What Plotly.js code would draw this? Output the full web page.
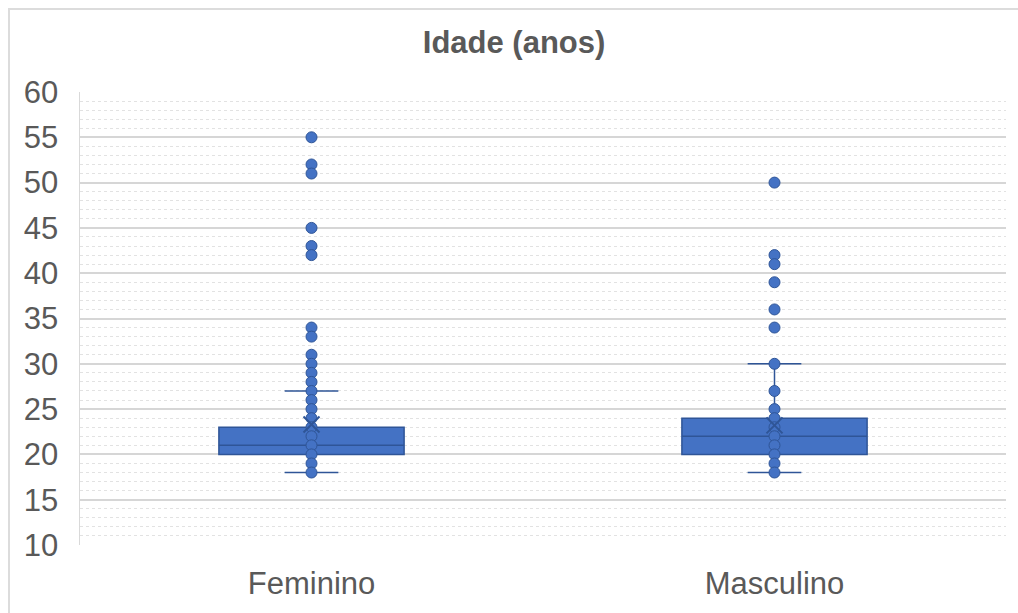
<!DOCTYPE html>
<html>
<head>
<meta charset="utf-8">
<script src="https://cdn.plot.ly/plotly-3.0.1.min.js"></script>
<style>
  html, body { margin: 0; padding: 0; background: #ffffff; }
  #wrap { position: relative; width: 1018px; height: 613px; overflow: hidden; }
  #chart { position: absolute; left: 0; top: 0; width: 1018px; height: 613px; }
  #frame { position: absolute; left: 8px; top: 8px; width: 1030px; height: 640px;
           border: 2px solid #dcdcdc; box-sizing: border-box; pointer-events: none; }
</style>
</head>
<body>
<div id="wrap">
  <div id="chart"></div>
  <div id="frame"></div>
</div>
<script>
// Grupos e resumo estatístico da idade por sexo
const categorias = ['Feminino', 'Masculino'];
const q1 = [20, 20];
const mediana = [21, 22];
const q3 = [23, 24];
const limiteInferior = [18, 18];
const limiteSuperior = [27, 30];
const media = [23.3, 23.2];

// Idades observadas (valores distintos) em cada grupo
const idadesFeminino = [55, 52, 51, 45, 43, 42, 34, 33, 31, 30, 29, 28, 27, 26, 25, 24, 23, 22, 21, 20, 19, 18];
const idadesMasculino = [50, 42, 41, 39, 36, 34, 30, 27, 25, 24, 23, 22, 21, 20, 19, 18];

const azul = '#4472C4';
const azulEscuro = '#2F5597';
const cinzaTexto = '#595959';

const pontosX = idadesFeminino.map(() => categorias[0]).concat(idadesMasculino.map(() => categorias[1]));
const pontosY = idadesFeminino.concat(idadesMasculino);

const traces = [
  {
    type: 'box',
    x: categorias,
    q1: q1,
    median: mediana,
    q3: q3,
    lowerfence: limiteInferior,
    upperfence: limiteSuperior,
    width: 0.4,
    whiskerwidth: 0.29,
    fillcolor: azul,
    line: { color: azulEscuro, width: 1.5 },
    boxpoints: false,
    hoverinfo: 'skip'
  },
  {
    type: 'scatter',
    mode: 'markers',
    x: pontosX,
    y: pontosY,
    marker: { color: azul, size: 11, line: { color: azulEscuro, width: 1 } },
    hoverinfo: 'skip'
  },
  {
    type: 'scatter',
    mode: 'markers',
    x: categorias,
    y: media,
    marker: { symbol: 'x-thin-open', size: 16, color: azulEscuro, line: { color: azulEscuro, width: 2 } },
    hoverinfo: 'skip'
  }
];

const layout = {
  width: 1018,
  height: 613,
  margin: { l: 80, r: 12, t: 92, b: 68 },
  paper_bgcolor: '#ffffff',
  plot_bgcolor: '#ffffff',
  showlegend: false,
  hovermode: false,
  font: { family: 'Liberation Sans, Arial, sans-serif', color: cinzaTexto },
  title: {
    text: '<b>Idade (anos)</b>',
    font: { size: 31, color: cinzaTexto },
    x: 0.505, xanchor: 'center',
    y: 0.932, yanchor: 'middle'
  },
  xaxis: {
    type: 'category',
    range: [-0.5, 1.5],
    showgrid: false,
    zeroline: false,
    showline: false,
    ticks: '',
    ticklabelstandoff: 17,
    tickfont: { size: 31, color: cinzaTexto }
  },
  yaxis: {
    range: [10, 60],
    dtick: 5,
    tick0: 10,
    showgrid: true,
    gridcolor: '#d6d6d6',
    gridwidth: 2,
    zeroline: false,
    showline: true,
    linecolor: '#d9d9d9',
    linewidth: 1.5,
    ticks: '',
    ticklabelstandoff: 14,
    tickfont: { size: 31, color: cinzaTexto },
    minor: {
      dtick: 1,
      showgrid: true,
      gridcolor: '#e2e2e2',
      gridwidth: 1,
      griddash: 'dot'
    }
  }
};

Plotly.newPlot('chart', traces, layout, { staticPlot: true, displayModeBar: false });
</script>
</body>
</html>
